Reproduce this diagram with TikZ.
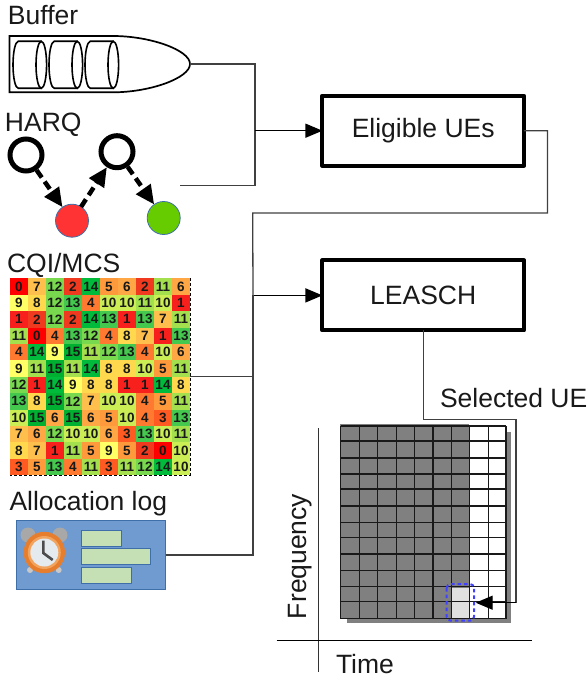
\documentclass[tikz,border=0pt]{standalone}
\usepackage{fontspec}
\setmainfont{Liberation Sans}
\usetikzlibrary{arrows.meta}
\definecolor{heat0}{HTML}{FF0000}\definecolor{heat1}{HTML}{F8201C}\definecolor{heat2}{HTML}{F03A20}
\definecolor{heat3}{HTML}{FF5A22}\definecolor{heat4}{HTML}{FF7A30}\definecolor{heat5}{HTML}{FF9A3C}
\definecolor{heat6}{HTML}{FFA645}\definecolor{heat7}{HTML}{FFBF4C}\definecolor{heat8}{HTML}{FFD84E}
\definecolor{heat9}{HTML}{FFFF66}\definecolor{heat10}{HTML}{CCEE55}\definecolor{heat11}{HTML}{A4E04E}
\definecolor{heat12}{HTML}{78D84E}\definecolor{heat13}{HTML}{44C94E}\definecolor{heat14}{HTML}{00BA3C}
\definecolor{heat15}{HTML}{00B030}
\definecolor{logblue}{HTML}{6F9BD1}\definecolor{logedge}{HTML}{3E6FA8}\definecolor{barfill}{HTML}{C5E0B4}
\definecolor{redstate}{HTML}{FF3333}\definecolor{greenstate}{HTML}{66CC00}\definecolor{stateedge}{HTML}{3E6FA8}
\definecolor{clockouter}{HTML}{E67E2E}\definecolor{clockring}{HTML}{F2A45F}\definecolor{clockface}{HTML}{E4EAEE}
\definecolor{bell}{HTML}{A8A8A8}\definecolor{foot}{HTML}{C8C8C8}
\tikzset{
  label/.style={inner sep=0pt,outer sep=0pt,anchor=base west,font=\fontsize{26.5}{29}\selectfont,text=black!90},
  procbox/.style={draw=black,line width=4pt,line join=round,fill=white,minimum width=201.5pt,minimum height=70pt,inner sep=0pt,outer sep=0pt,font=\fontsize{26.5}{29}\selectfont,text=black!90},
  wire/.style={draw=black!75,line width=1.3pt},
  feed/.style={draw=black,line width=1.3pt,-{Triangle[length=17pt,width=14pt]}},
  ringstate/.style={circle,draw=black,line width=5pt,fill=white,minimum size=32pt,inner sep=0pt,outer sep=2.5pt},
  colstate/.style={circle,draw=stateedge,line width=0.8pt,minimum size=33pt,inner sep=0pt,outer sep=0pt},
  trans/.style={draw=black,line width=4.5pt,dash pattern=on 9pt off 5pt,-{Triangle[length=19pt,width=17pt]}},
  heatcell/.style={minimum width=18pt,minimum height=16.4pt,inner sep=0pt,outer sep=0pt,font=\fontsize{13.5}{14}\selectfont\bfseries,text=black!90},
  logbar/.style={draw=logedge,line width=0.9pt,fill=barfill},
  cyl/.style={draw=black,line width=1.6pt}
}
\begin{document}
\begin{tikzpicture}[x=1pt,y=-1pt]
\useasboundingbox (0,0) rectangle (588,679);
% labels
\node[label] (tBuffer) at (8,25) {Buffer};
\node[label] (tHarq) at (5,132) {HARQ};
\node[label] (tCqi) at (7,272) {CQI/MCS};
\node[label] (tAlloc) at (9.5,510) {Allocation log};
\node[label] (tSel) at (440,407) {Selected UE};
\node[label] (tTime) at (336,673) {Time};
\node[label,rotate=90] (tFreq) at (306.7,619) {Frequency};
% buffer
\draw[line width=1.7pt,line join=miter] (9.5,36) -- (113,36) .. controls (150,36) and (190,50) .. (190,64) .. controls (190,78) and (150,92.3) .. (113,92.3) -- (9.5,92.3) -- cycle;
\coordinate (bufTip) at (190,64);
\foreach \l/\e in {13/41.3,49/77.3,85/113.3}{
  \draw[cyl] (\e,41.3) -- (\l+5.3,41.3) arc[start angle=270,end angle=90,x radius=5.3,y radius=23.5] -- (\e,88.3);
  \draw[cyl] (\e,64.8) ellipse[x radius=5.3,y radius=23.5];
}
% HARQ
\node[ringstate] (h1) at (26,155) {};
\node[ringstate] (h2) at (117,151.7) {};
\node[colstate,fill=redstate] (sRed) at (72,220.7) {};
\node[colstate,fill=greenstate] (sGreen) at (163.7,218) {};
\draw[trans] (h1) -- (sRed);
\draw[trans] (sRed) -- (h2);
\draw[trans] (h2) -- (sGreen);
\coordinate (harqOut) at (180,185.7);
% heat map
\foreach \rowvals [count=\r from 0] in {{0,7,12,2,14,5,6,2,11,6},{9,8,12,13,4,10,10,11,10,1},{1,2,12,2,14,13,1,13,7,11},{11,0,4,13,12,4,8,7,1,13},{4,14,9,15,11,12,13,4,10,6},{9,11,15,11,14,8,8,10,5,11},{12,1,14,9,8,8,1,1,14,8},{13,8,15,12,7,10,10,4,5,11},{10,15,6,15,6,5,10,4,3,13},{7,6,12,10,10,6,3,13,10,11},{8,7,1,11,5,9,5,2,0,10},{3,5,13,4,11,3,11,12,14,10}}{
  \foreach \v [count=\c from 0] in \rowvals {
    \node[heatcell,fill=heat\v] (cell-\r-\c) at ({19+18*\c},{286.5+16.4*\r}) {\v};
  }
}
\draw[black,line width=0.9pt,densely dashed] (190,278.3) -- (190,475) -- (10,475);
\coordinate (cqiOut) at (190,376.7);
% allocation log
\node[draw=logedge,line width=0.9pt,fill=logblue,minimum width=149pt,minimum height=69.4pt,inner sep=0pt,outer sep=0pt] (alloc) at (91.2,555) {};
\fill[bell] (28,535) circle[radius=7.5] (60,535) circle[radius=7.5];
\fill[foot] (30,570) circle[radius=3] (58.7,570) circle[radius=3];
\fill[clockouter] (44.3,552.5) circle[radius=20.7];
\fill[clockring] (44.3,552.5) circle[radius=16.5];
\fill[clockface] (44.3,552.5) circle[radius=14];
\draw[black!70,line width=2.6pt] (43.3,540.7) -- (43.3,553) -- (52.7,560);
\draw[logbar] (81.7,530.3) rectangle (121,546);
\draw[logbar] (81.7,548.7) rectangle (150.7,564.7);
\draw[logbar] (81.7,567.7) rectangle (131,583.3);
% process boxes
\node[procbox] (elig) at (423.2,130.7) {Eligible UEs};
\node[procbox] (lea) at (423.2,295.4) {LEASCH};
% resource grid
\fill[black!50] (347,431.7) rectangle (510.7,622.7);
\fill[black!50] (340,424) rectangle (469,618.7);
\fill[white] (469,426) rectangle (506,618.7);
\fill[black!12] (451.5,587.5) rectangle (468.5,618.7);
\foreach \gx in {340.7,359.3,377.7,396.3,414.7,433,451.3,469.7,488.3,506}{
  \draw[black!90,line width=1.5pt] (\gx,426) -- (\gx,618.7);
}
\foreach \gy in {426,441,458,474,489,506,522.7,537.7,554,570.7,586.7,601.7,618.7}{
  \draw[black!90,line width=1.5pt] (340.7,\gy) -- (506,\gy);
}
\draw[blue!75!white,line width=2pt,dash pattern=on 3.5pt off 3pt,rounded corners=4pt] (446.7,584) rectangle (474,620.7);
% axes
\coordinate (axT) at (318.3,428);
\coordinate (axB) at (318.3,671.7);
\coordinate (axL) at (276.7,640.3);
\coordinate (axR) at (532,640.3);
\draw[black!80,line width=1pt] (axT) -- (axB);
\draw[black,line width=1pt] (axL) -- (axR);
% connectors
\coordinate (jA) at (255,130.7);
\coordinate (jB) at (253,295.4);
\coordinate (cornerSel) at (516,602.7);
\coordinate (cellIn) at (475.7,602.7);
\draw[wire] (bufTip) -| (jA);
\draw[wire] (harqOut) -| (jA);
\draw[feed] (jA) -- (elig.west);
\draw[wire] (elig.east) -- (547.5,130.7) |- (252.7,213) -- (jB);
\draw[feed] (jB) -- (lea.west);
\draw[wire] (cqiOut) -| (jB);
\draw[wire] (alloc.east) -| (jB);
\draw[wire] (lea.south) |- (516,419.5) -- (cornerSel);
\draw[feed] (cornerSel) -- (cellIn);
\end{tikzpicture}
\end{document}
